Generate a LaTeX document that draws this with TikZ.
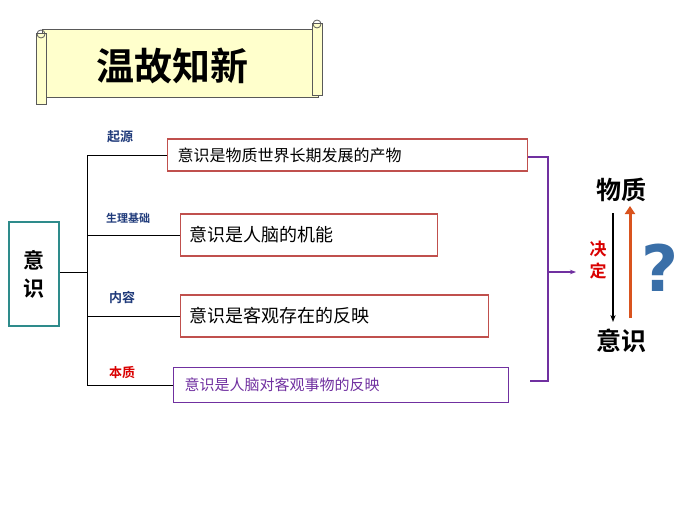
\documentclass[tikz,border=0pt]{standalone}
\usepackage{fontspec}
\newfontfamily\cjk{Noto Sans CJK SC}
\newfontfamily\cjkb{Noto Sans CJK SC Bold}
\usetikzlibrary{arrows.meta}
\definecolor{scroll}{HTML}{FFFFCC}
\definecolor{teal1}{HTML}{2E8B8B}
\definecolor{brn}{HTML}{C0504D}
\definecolor{purp}{HTML}{7030A0}
\definecolor{navy}{HTML}{1F3A7A}
\definecolor{orng}{HTML}{D9531E}
\definecolor{qblue}{HTML}{3A6FA8}
\begin{document}
\begin{tikzpicture}[x=1pt,y=-1pt,
  lbl/.style={font=\cjkb\fontsize{13}{13}\selectfont,text=navy},
  boxa/.style={draw=brn,line width=1.2pt,anchor=west,inner sep=0pt},
  txt/.style={font=\cjk\fontsize{18}{18}\selectfont,anchor=west}]
\useasboundingbox (0,0) rectangle (700,524);
% scroll
\draw[gray!70!black,fill=scroll,line width=1pt] (42,30) -- (318,30) -- (318,98) -- (42,98) -- cycle;
\draw[gray!70!black,fill=scroll,line width=1pt] (36,34) rectangle (46,104);
\draw[gray!70!black,fill=scroll,line width=1pt] (312,24) rectangle (322,96);
\draw[gray!70!black,line width=0.8pt] (41,34) circle (4);
\draw[gray!70!black,line width=0.8pt] (317,24) circle (4);
\node (title) at (172,66) {\cjkb\fontsize{38}{38}\selectfont 温故知新};
% left box
\node[draw=teal1,line width=1.5pt,minimum width=50,minimum height=104,align=center,inner sep=0pt,font=\cjkb\fontsize{21}{28}\selectfont] (yi) at (34,274) {意\\识};
\coordinate (j) at (87,272);
\draw[line width=1pt] (yi.east |- j) -- (j);
\draw[line width=1pt] (87,155) -- (87,386);
% boxes
\node[boxa,minimum width=360,minimum height=32] (b1) at (167,155) {};
\node[txt,font=\cjk\fontsize{16}{16}\selectfont] (t1) at (174,155) {意识是物质世界长期发展的产物};
\node[boxa,minimum width=257,minimum height=42] (b2) at (180,235) {};
\node[txt] (t2) at (186,235) {意识是人脑的机能};
\node[boxa,minimum width=308,minimum height=42] (b3) at (180,316) {};
\node[txt] (t3) at (186,316) {意识是客观存在的反映};
\node[boxa,draw=purp,minimum width=335,minimum height=35] (b4) at (173,385) {};
\node[font=\cjk\fontsize{15}{15}\selectfont,text=purp,anchor=west] (t4) at (181,385) {意识是人脑对客观事物的反映};
\draw[line width=1pt] (87,155) -- (b1.west);
\draw[line width=1pt] (87,235) -- (b2.west);
\draw[line width=1pt] (87,316) -- (b3.west);
\draw[line width=1pt] (87,385) -- (b4.west);
\node[lbl] (l1) at (120,137) {起源};
\node[lbl,font=\cjkb\fontsize{11}{11}\selectfont] (l2) at (128,218) {生理基础};
\node[lbl] (l3) at (122,297) {内容};
\node[lbl,text=red!85!black] (l4) at (122,373) {本质};
% bracket
\coordinate (br) at (548,272);
\draw[purp,line width=1.8pt] (b1.east |- 0,157) -- (548,157) -- (548,381) -- (530,381);
\coordinate (ar) at (576,272);
\draw[purp,line width=1.5pt,-{Stealth[length=6pt]}] (br) -- (ar);
% right
\node (wz) at (621,190) {\cjkb\fontsize{25}{25}\selectfont 物质};
\node (ys) at (621,341) {\cjkb\fontsize{25}{25}\selectfont 意识};
\draw[line width=1.2pt,-{Stealth[length=7pt]}] (613,213) -- (613,322);
\draw[orng,line width=3pt,-{Triangle[length=8pt,width=10pt]}] (630,318) -- (630,206);
\node[text=red!85!black,align=center,inner sep=0pt,font=\cjkb\fontsize{17}{22}\selectfont] (jd) at (598,260) {决\\定};
\node[text=qblue,font=\fontspec{DejaVu Sans Bold}\fontsize{64}{64}\selectfont] (q) at (660,268) {?};
\end{tikzpicture}
\end{document}
